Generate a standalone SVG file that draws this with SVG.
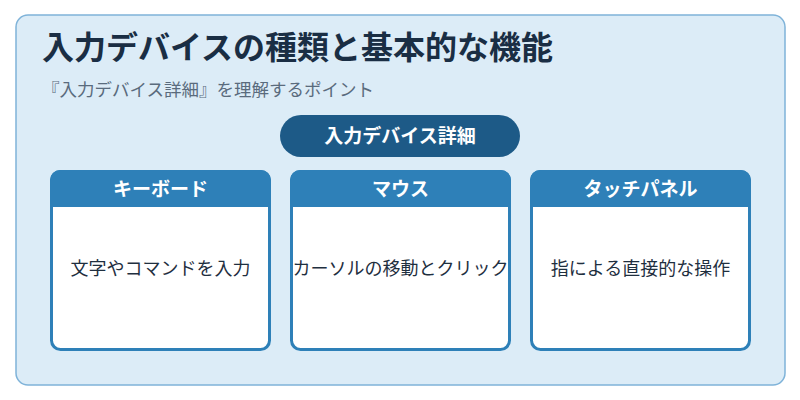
<svg xmlns="http://www.w3.org/2000/svg" width="800" height="400" viewBox="0 0 800 400">
<style>
text{font-family:"Noto Sans CJK JP","Noto Sans",sans-serif}
.card{fill:#fff;stroke:#2e80b8;stroke-width:3}
.hd{fill:#2e80b8}
.ht{fill:#fff;font-size:19px;font-weight:bold;text-anchor:middle}
.bt{fill:#1f2f3f;font-size:18px;text-anchor:middle}
</style>
<rect x="16" y="15" width="769" height="370" rx="12" fill="#dcecf7" stroke="#7fb3d9" stroke-width="1.5"/>
<text x="42" y="59" font-size="32" font-weight="bold" fill="#1a2e44">入力デバイスの種類と基本的な機能</text>
<text x="42" y="96" font-size="17.5" fill="#5a6b7d">『入力デバイス詳細』を理解するポイント</text>
<g id="center">
<rect x="280" y="115" width="240" height="42" rx="21" fill="#1d5a87"/>
<text x="400" y="143" class="ht">入力デバイス詳細</text>
</g>
<g id="connectors"></g>
<g id="keyboard">
<rect class="card" x="51.5" y="171.5" width="218" height="178" rx="9"/>
<path class="hd" d="M50 207V180a10 10 0 0 1 10-10h201a10 10 0 0 1 10 10v27z"/>
<text class="ht" x="160.5" y="196">キーボード</text>
<text class="bt" x="160.5" y="275">文字やコマンドを入力</text>
</g>
<g id="mouse">
<rect class="card" x="291.5" y="171.5" width="218" height="178" rx="9"/>
<path class="hd" d="M290 207V180a10 10 0 0 1 10-10h201a10 10 0 0 1 10 10v27z"/>
<text class="ht" x="400.5" y="196">マウス</text>
<text class="bt" x="400.5" y="275">カーソルの移動とクリック</text>
</g>
<g id="touch">
<rect class="card" x="531.5" y="171.5" width="218" height="178" rx="9"/>
<path class="hd" d="M530 207V180a10 10 0 0 1 10-10h201a10 10 0 0 1 10 10v27z"/>
<text class="ht" x="640.5" y="196">タッチパネル</text>
<text class="bt" x="640.5" y="275">指による直接的な操作</text>
</g>
</svg>
